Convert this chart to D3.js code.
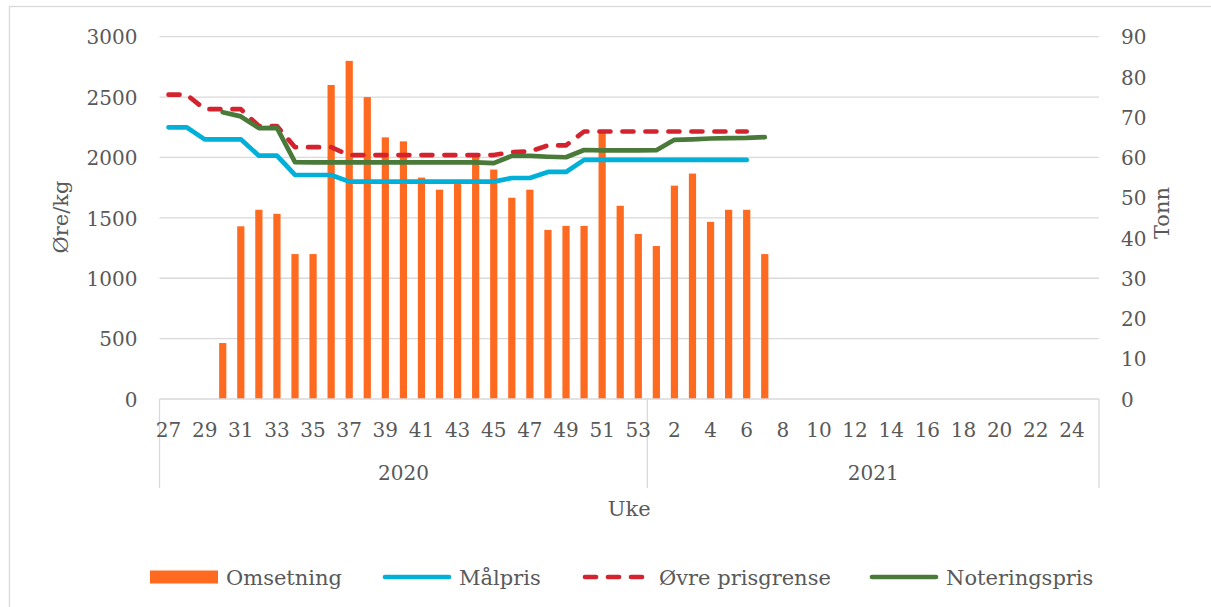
<!DOCTYPE html>
<html lang="no">
<head>
<meta charset="utf-8">
<title>Omsetning og priser</title>
<script src="https://cdn.jsdelivr.net/npm/d3@7"></script>
<style>
  html, body { margin: 0; padding: 0; background: #fff; overflow: hidden; }
  svg text { font-family: "DejaVu Serif", Georgia, serif; fill: #595959; }
  .tick text { font-size: 20px; }
  .grid line { stroke: #d9d9d9; stroke-width: 1.3; }
</style>
</head>
<body>
<div id="chart"></div>
<script>
// ---- data ----
var years = ["2020", "2021"];
var weeks2020 = [27,28,29,30,31,32,33,34,35,36,37,38,39,40,41,42,43,44,45,46,47,48,49,50,51,52,53];
var weeks2021 = [1,2,3,4,5,6,7,8,9,10,11,12,13,14,15,16,17,18,19,20,21,22,23,24,25];

// Omsetning, tonn (right axis)
var omsetning = [null,null,null,13.9,42.9,47,46,36,36,78,84,75,65,64,55,52,53.4,61,57,50,52,42,43,43,66.5,48,41,
                 38,53,56,44,47,47,36,null,null,null,null,null,null,null,null,null,null,null,null,null,null,null,null,null,null];
// øre/kg (left axis)
var malpris = [2250,2250,2150,2150,2150,2015,2015,1855,1855,1855,1800,1800,1800,1800,1800,1800,1800,1800,1800,1830,1830,1880,1880,1980,1980,1980,1980,
               1980,1980,1980,1980,1980,1980,null,null,null,null,null,null,null,null,null,null,null,null,null,null,null,null,null,null,null];
var ovrePrisgrense = [2520,2520,2400,2400,2400,2260,2260,2085,2085,2085,2020,2020,2020,2020,2020,2020,2020,2020,2020,2045,2050,2100,2100,2215,2215,2215,2215,
                      2215,2215,2215,2215,2215,2215,null,null,null,null,null,null,null,null,null,null,null,null,null,null,null,null,null,null,null];
var noteringspris = [null,null,null,2375,2340,2243,2245,1962,1960,1960,1960,1960,1960,1960,1960,1960,1960,1960,1953,2013,2013,2006,2002,2062,2058,2058,2058,
                     2060,2146,2150,2157,2160,2162,2168,null,null,null,null,null,null,null,null,null,null,null,null,null,null,null,null,null,null];

var leftTicks = [0,500,1000,1500,2000,2500,3000];
var rightTicks = [0,10,20,30,40,50,60,70,80,90];
var legendNames = ["Omsetning", "Målpris", "Øvre prisgrense", "Noteringspris"];

// ---- layout ----
var W = 1211, H = 607;
var plot = {left: 159.5, right: 1099, top: 36.7, bottom: 399};

var cats = weeks2020.map(function(w){ return "2020-" + w; })
  .concat(weeks2021.map(function(w){ return "2021-" + w; }));
var weekOf = {};
weeks2020.forEach(function(w){ weekOf["2020-" + w] = w; });
weeks2021.forEach(function(w){ weekOf["2021-" + w] = w; });

var colors = {
  oms: "#ff6a21",
  mal: "#00b0d8",
  ovre: "#d3232f",
  not: "#4a7a3a"
};

var svg = d3.select("#chart").append("svg")
  .attr("width", W).attr("height", H);

// outer frame
svg.append("rect")
  .attr("x", 9.5).attr("y", 6.5)
  .attr("width", W + 10).attr("height", H + 10)
  .attr("fill", "none").attr("stroke", "#d9d9d9").attr("stroke-width", 1.3);

var x = d3.scaleBand().domain(cats)
  .range([plot.left, plot.right])
  .paddingInner(0.6).paddingOuter(0.3);
var yL = d3.scaleLinear().domain([0, 3000]).range([plot.bottom, plot.top]);
var yR = d3.scaleLinear().domain([0, 90]).range([plot.bottom, plot.top]);
var cx = function(i){ return x(cats[i]) + x.bandwidth() / 2; };

// gridlines
svg.append("g").attr("class", "grid")
  .selectAll("line").data(leftTicks.filter(function(t){ return t > 0; }))
  .enter().append("line")
  .attr("x1", plot.left).attr("x2", plot.right)
  .attr("y1", function(d){ return yL(d); }).attr("y2", function(d){ return yL(d); });

// left axis
var axL = svg.append("g")
  .attr("transform", "translate(" + (plot.left - 22) + ",0)")
  .call(d3.axisLeft(yL).tickValues(leftTicks).tickFormat(d3.format("d")).tickSize(0).tickPadding(0));
axL.select(".domain").remove();
axL.selectAll("text").attr("dy", "0.36em");

// right axis
var axR = svg.append("g")
  .attr("transform", "translate(" + (plot.right + 22) + ",0)")
  .call(d3.axisRight(yR).tickValues(rightTicks).tickFormat(d3.format("d")).tickSize(0).tickPadding(0));
axR.select(".domain").remove();
axR.selectAll("text").attr("dy", "0.36em");

// bars
svg.append("g").selectAll("rect")
  .data(omsetning.map(function(v, i){ return {v: v, i: i}; }).filter(function(d){ return d.v != null; }))
  .enter().append("rect")
  .attr("x", function(d){ return x(cats[d.i]); })
  .attr("width", x.bandwidth())
  .attr("y", function(d){ return yR(d.v); })
  .attr("height", function(d){ return plot.bottom - yR(d.v); })
  .attr("fill", colors.oms);

// x axis line + multi-level category axis
var splitX = (x(cats[weeks2020.length - 1]) + x.bandwidth() + x(cats[weeks2020.length])) / 2;
var axisG = svg.append("g").attr("stroke", "#d9d9d9").attr("stroke-width", 1.3);
axisG.append("line")
  .attr("x1", plot.left).attr("x2", plot.right)
  .attr("y1", plot.bottom).attr("y2", plot.bottom);
[plot.left, splitX, plot.right].forEach(function(px){
  axisG.append("line")
    .attr("x1", px).attr("x2", px)
    .attr("y1", plot.bottom).attr("y2", 488);
});

svg.append("g").selectAll("text")
  .data(cats.filter(function(c, i){ return i % 2 === 0; }))
  .enter().append("text")
  .attr("x", function(c){ return x(c) + x.bandwidth() / 2; })
  .attr("y", 437)
  .attr("text-anchor", "middle")
  .style("font-size", "20px")
  .text(function(c){ return weekOf[c]; });

var yearSpan = [[plot.left, splitX], [splitX, plot.right]];
svg.append("g").selectAll("text")
  .data(years).enter().append("text")
  .attr("x", function(d, i){ return (yearSpan[i][0] + yearSpan[i][1]) / 2; })
  .attr("y", 480)
  .attr("text-anchor", "middle")
  .style("font-size", "20px")
  .text(function(d){ return d; });

// axis titles
svg.append("text")
  .attr("x", (plot.left + plot.right) / 2).attr("y", 516)
  .attr("text-anchor", "middle").style("font-size", "21px")
  .text("Uke");
svg.append("text")
  .attr("transform", "translate(68,217) rotate(-90)")
  .attr("text-anchor", "middle").style("font-size", "21px")
  .text("Øre/kg");
svg.append("text")
  .attr("transform", "translate(1169,213) rotate(-90)")
  .attr("text-anchor", "middle").style("font-size", "21px")
  .text("Tonn");

// lines
function drawLine(values, color, dash) {
  var line = d3.line()
    .defined(function(d){ return d != null; })
    .x(function(d, i){ return cx(i); })
    .y(function(d){ return yL(d); });
  svg.append("path")
    .datum(values)
    .attr("d", line)
    .attr("fill", "none")
    .attr("stroke", color)
    .attr("stroke-width", 4.7)
    .attr("stroke-linecap", "round")
    .attr("stroke-linejoin", "round")
    .attr("stroke-dasharray", dash || null);
}
drawLine(malpris, colors.mal);
drawLine(ovrePrisgrense, colors.ovre, "11,12");
drawLine(noteringspris, colors.not);

// legend
var legY = 577;
var legX = [150, 383, 583, 870];
var leg = svg.append("g");
legendNames.forEach(function(name, i){
  var g = leg.append("g").attr("transform", "translate(" + legX[i] + "," + legY + ")");
  if (i === 0) {
    g.append("rect").attr("x", 0).attr("y", -6.5).attr("width", 68).attr("height", 13)
      .attr("fill", colors.oms);
  } else {
    var c = [null, colors.mal, colors.ovre, colors.not][i];
    g.append("line").attr("x1", 2).attr("x2", 66).attr("y1", 0).attr("y2", 0)
      .attr("stroke", c).attr("stroke-width", 4.7).attr("stroke-linecap", "round")
      .attr("stroke-dasharray", i === 2 ? "11,12" : null);
  }
  g.append("text").attr("x", 76).attr("y", 0).attr("dy", "0.36em")
    .style("font-size", "21px").text(name);
});
</script>
</body>
</html>
